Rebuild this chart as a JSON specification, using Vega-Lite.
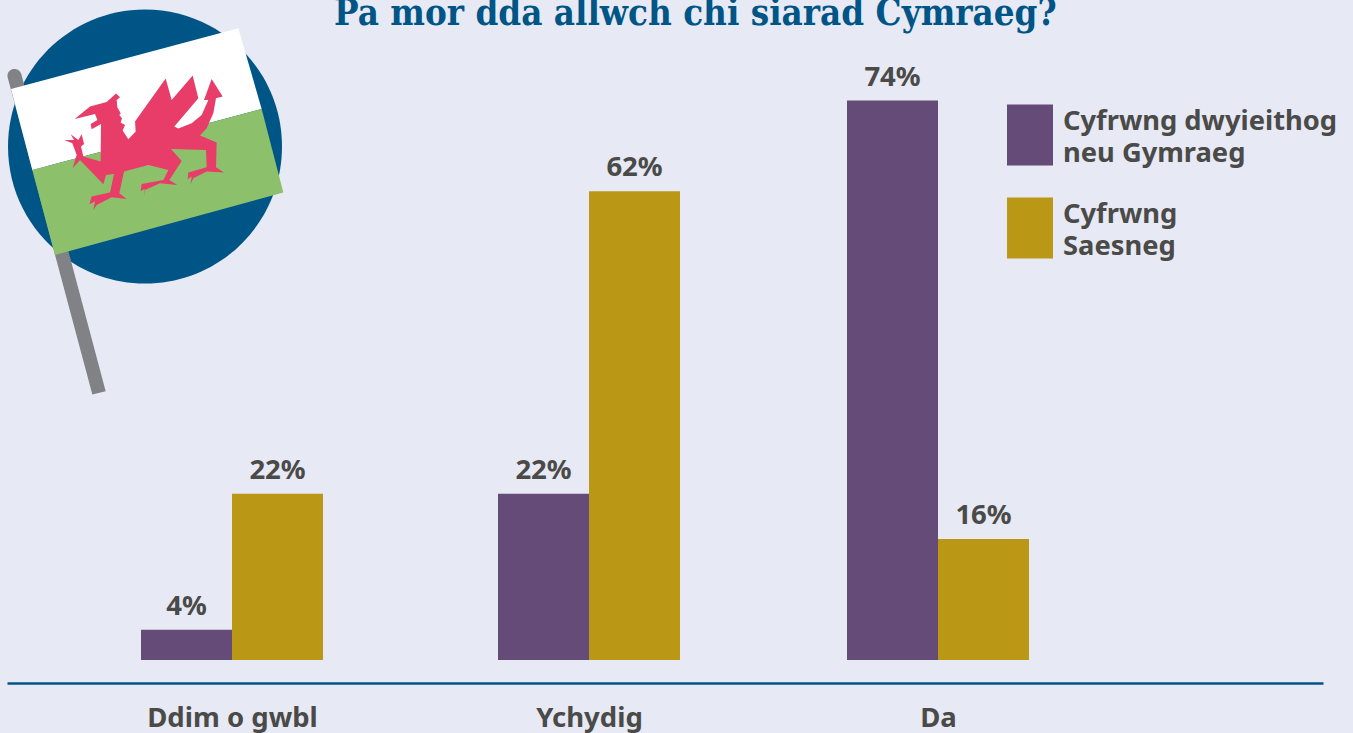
{
"$schema":"https://vega.github.io/schema/vega-lite/v6.json",
"autosize":"none",
"padding":{"left":7,"top":0,"right":30,"bottom":50},
"width":1316,
"height":683,
"background":"#E7E9F4",
"title":{"text":"Pa mor dda allwch chi siarad Cymraeg?","font":"DejaVu Serif Condensed, DejaVu Serif","fontWeight":"bold","fontSize":36.4,"color":"#005587","anchor":"start","frame":"group","baseline":"alphabetic","offset":0,"dy":61,"dx":327},
"config":{"view":{"stroke":null},"axis":{"grid":false}},
"data":{"values":[
{"level":"Ddim o gwbl","slot":1,"medium":"Cyfrwng dwyieithog neu Gymraeg","pct":4},
{"level":"Ddim o gwbl","slot":1,"medium":"Cyfrwng Saesneg","pct":22},
{"level":"Ychydig","slot":2,"medium":"Cyfrwng dwyieithog neu Gymraeg","pct":22},
{"level":"Ychydig","slot":2,"medium":"Cyfrwng Saesneg","pct":62},
{"level":"Da","slot":3,"medium":"Cyfrwng dwyieithog neu Gymraeg","pct":74},
{"level":"Da","slot":3,"medium":"Cyfrwng Saesneg","pct":16}
]},
"encoding":{
"x":{"field":"slot","type":"quantitative","title":null,"scale":{"type":"linear","domain":[0,1,2,3,4],"range":[0,225,582,931,1316],"nice":false,"zero":false},
"axis":{"values":[1,2,3],"labelExpr":"['Ddim o gwbl','Ychydig','Da'][datum.value-1]","labelAngle":0,"labelFont":"Noto Sans","labelFontWeight":"bold","labelFontSize":27.5,"labelColor":"#4A4A48","labelPadding":21,"labelFlush":false,"labelOverlap":false,"ticks":false,"domainColor":"#005587","domainWidth":2.5}},
"y":{"field":"pct","type":"quantitative","title":null,"axis":null,"scale":{"domain":[-3.04,87.3],"nice":false,"zero":false}}
},
"layer":[
{"data":{"values":[{"slot":1,"pct":68}]},"mark":{"type":"point","filled":true,"size":0.4444,"opacity":1,"color":"#005587","shape":"M-672,2A411,411 0 1 1 150,2A411,411 0 1 1 -672,2Z"}},
{"data":{"values":[{"slot":1,"pct":68}]},"mark":{"type":"point","filled":true,"size":0.4444,"opacity":1,"color":"#808285","shape":"M-673,-205A21,21 0 0 1 -632,-215L-379,736L-419,746Z"}},
{"data":{"values":[{"slot":1,"pct":68}]},"mark":{"type":"point","filled":true,"size":0.4444,"opacity":1,"color":"#FFFFFF","shape":"M-663,-171L19,-353L89,-111L-599,72Z"}},
{"data":{"values":[{"slot":1,"pct":68}]},"mark":{"type":"point","filled":true,"size":0.4444,"opacity":1,"color":"#8CC06B","shape":"M-599,72L89,-111L154,140L-531,327Z"}},
{"data":{"values":[{"slot":1,"pct":68}]},"mark":{"type":"point","filled":true,"size":0.4444,"opacity":1,"color":"#E93D69","shape":"M-472,-81L-426,-118L-376,-132L-348,-157L-336,-146L-346,-138L-344,-116L-334,-98L-338,-93L-330,-83L-334,-70L-321,-63L-328,-46L-311,-20L-289,-43L-291,-73L-199,-202L-181,-138L-118,-211L-101,-143L-173,-58L-161,-52L-121,-68L-91,-93L-71,-138L-84,-138L-61,-201L-28,-148L-48,-143L-56,-98L-76,-53L-96,-31L-46,-10L-48,64L-24,80L-76,77L-116,97L-124,114L-121,92L-133,100L-131,80L-76,64L-78,12L-183,9L-151,45L-188,102L-164,117L-216,112L-261,132L-264,152L-262,129L-274,135L-271,114L-206,102L-191,72L-251,57L-324,77L-338,142L-316,159L-361,154L-406,177L-416,192L-411,167L-428,175L-421,152L-366,140L-354,84L-378,87L-386,115L-456,42L-478,67L-466,27L-479,-8L-503,-18L-474,-18L-484,-35L-461,-18L-451,-35L-444,-6L-453,2L-446,32L-394,47L-393,-66L-421,-50L-424,-66L-404,-78L-411,-96Z"}},
{"transform":[{"filter":"datum.medium=='Cyfrwng dwyieithog neu Gymraeg'"}],"mark":{"type":"bar","width":91,"xOffset":-45.5},"encoding":{
"color":{"field":"medium","type":"nominal","title":null,"scale":{"domain":["Cyfrwng dwyieithog neu Gymraeg","Cyfrwng Saesneg"],"range":["#644B78","#BA9815"]},
"legend":{"orient":"none","legendX":1000,"legendY":112,"title":null,"symbolType":"M-1,-1.326H1V1.326H-1Z","symbolSize":2116,"symbolStrokeWidth":0,"symbolOpacity":1,"labelFont":"Noto Sans","labelFontWeight":"bold","labelFontSize":27.3,"labelColor":"#4A4A48","labelLimit":400,"labelOffset":10,"rowPadding":29,"labelExpr":"datum.value=='Cyfrwng Saesneg'?['Cyfrwng','Saesneg']:['Cyfrwng dwyieithog','neu Gymraeg']","encode":{"labels":{"update":{"lineHeight":{"value":32},"dy":{"value":-13}}}}}},
"y2":{"datum":0}}},
{"transform":[{"filter":"datum.medium=='Cyfrwng Saesneg'"}],"mark":{"type":"bar","width":91,"xOffset":45.5},"encoding":{
"color":{"field":"medium","type":"nominal"},
"y2":{"datum":0}}},
{"transform":[{"filter":"datum.medium=='Cyfrwng dwyieithog neu Gymraeg'"},{"calculate":"datum.pct+'%'","as":"pctLabel"}],"mark":{"type":"text","font":"Noto Sans","fontWeight":"bold","fontSize":27.5,"color":"#4A4A48","baseline":"alphabetic","dy":-15,"xOffset":-45.5},"encoding":{"text":{"field":"pctLabel"}}},
{"transform":[{"filter":"datum.medium=='Cyfrwng Saesneg'"},{"calculate":"datum.pct+'%'","as":"pctLabel"}],"mark":{"type":"text","font":"Noto Sans","fontWeight":"bold","fontSize":27.5,"color":"#4A4A48","baseline":"alphabetic","dy":-15,"xOffset":45.5},"encoding":{"text":{"field":"pctLabel"}}}
]
}
